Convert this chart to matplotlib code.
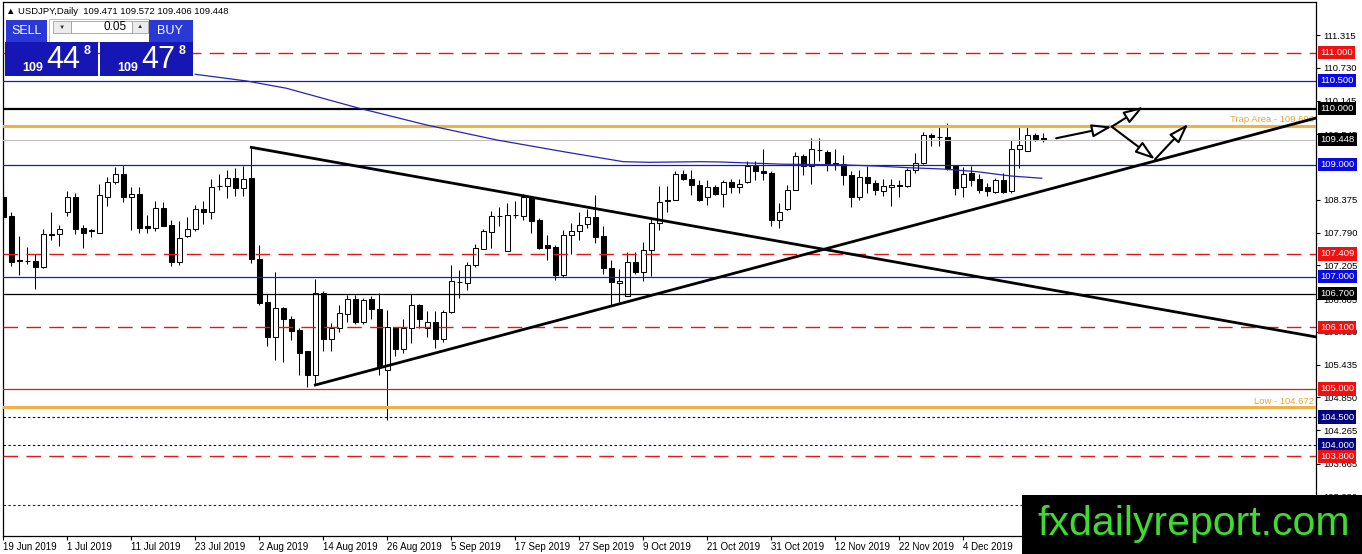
import matplotlib
matplotlib.use("Agg")
import matplotlib.pyplot as plt
import matplotlib.transforms as mtransforms
from matplotlib.patches import Rectangle

plt.rcParams["font.family"] = ["Liberation Sans", "DejaVu Sans"]

W, H = 1362, 554

# 日线K线 (bar 0 = 19 Jun 2019)
opens = [108.43, 108.09, 107.28, 107.29, 107.28, 107.17, 107.75, 107.76, 108.16, 108.42,
         107.87, 107.82, 107.79, 108.43, 108.69, 108.83, 108.43, 108.48, 107.91, 107.88,
         108.22, 107.93, 107.27, 107.73, 107.85, 108.21, 108.15, 108.62, 108.63, 108.76,
         108.58, 108.76, 107.31, 106.55, 105.92, 106.44, 106.24, 106.05, 105.67, 105.25,
         106.72, 105.89, 106.08, 106.34, 106.60, 106.20, 106.61, 106.42, 105.33, 106.10,
         105.71, 106.08, 106.49, 106.08, 106.20, 105.90, 106.37, 106.90, 106.89, 107.22,
         107.50, 107.80, 108.09, 107.46, 108.10, 108.09, 108.40, 108.02, 107.57, 107.54,
         107.03, 107.75, 107.82, 107.94, 108.07, 107.73, 107.15, 106.89, 106.65, 107.26,
         107.09, 107.48, 107.97, 108.36, 108.38, 108.84, 108.74, 108.64, 108.43, 108.61,
         108.47, 108.70, 108.60, 108.69, 108.98, 108.89, 108.86, 108.02, 108.21, 108.55,
         109.16, 108.98, 109.27, 109.22, 109.04, 109.01, 108.82, 108.42, 108.78, 108.67,
         108.54, 108.60, 108.63, 108.62, 108.91, 109.03, 109.53, 109.50, 109.50, 108.97,
         108.61, 108.85, 108.75, 108.61, 108.52, 108.72, 108.53, 109.29, 109.25, 109.53,
         109.471]
highs = [108.64, 108.15, 107.73, 107.53, 107.40, 107.86, 108.16, 107.93, 108.53, 108.49,
         107.93, 107.85, 108.65, 108.78, 108.96, 108.99, 108.60, 108.60, 108.10, 108.36,
         108.34, 108.02, 107.99, 108.06, 108.28, 108.35, 108.74, 108.84, 108.90, 108.94,
         108.98, 109.31, 107.57, 106.69, 107.08, 106.47, 106.30, 106.08, 105.68, 106.96,
         106.74, 106.18, 106.50, 106.68, 106.68, 106.62, 106.65, 106.72, 106.41, 106.11,
         106.24, 106.69, 106.52, 106.39, 106.39, 106.41, 107.22, 107.12, 107.27, 107.59,
         107.85, 108.18, 108.25, 108.31, 108.36, 108.48, 108.43, 108.05, 107.75, 107.57,
         107.84, 107.96, 108.16, 108.21, 108.46, 107.90, 107.30, 107.14, 107.45, 107.45,
         107.63, 108.05, 108.62, 108.62, 108.88, 108.90, 108.90, 108.73, 108.73, 108.64,
         108.73, 108.74, 108.74, 109.06, 109.06, 109.28, 108.88, 108.31, 108.64, 109.23,
         109.19, 109.47, 109.47, 109.26, 109.29, 109.18, 108.88, 108.90, 108.97, 108.73,
         108.74, 108.74, 108.73, 108.94, 109.21, 109.59, 109.56, 109.71, 109.74, 108.98,
         108.96, 108.98, 108.84, 108.67, 108.76, 108.85, 109.44, 109.68, 109.68, 109.57,
         109.572]
lows = [107.90, 107.20, 107.03, 107.23, 106.78, 107.16, 107.65, 107.55, 108.09, 107.76,
        107.52, 107.71, 107.78, 108.27, 108.65, 108.34, 107.84, 107.79, 107.79, 107.81,
        107.91, 107.19, 107.21, 107.71, 107.81, 107.94, 108.03, 108.55, 108.41, 108.44,
        108.44, 107.25, 106.50, 105.77, 105.51, 105.49, 105.87, 105.25, 105.04, 105.07,
        105.68, 105.68, 106.01, 106.20, 106.16, 106.16, 106.24, 105.25, 104.45, 105.58,
        105.64, 105.82, 106.08, 105.92, 105.73, 105.83, 106.36, 106.62, 106.76, 107.18,
        107.50, 107.51, 107.90, 107.46, 108.05, 108.02, 107.78, 107.49, 107.30, 106.94,
        106.99, 107.40, 107.65, 107.87, 107.61, 107.06, 106.50, 106.56, 106.65, 107.06,
        106.92, 107.02, 107.84, 108.15, 108.37, 108.73, 108.46, 108.36, 108.28, 108.46,
        108.24, 108.49, 108.50, 108.68, 108.72, 108.72, 107.91, 107.88, 108.19, 108.55,
        108.81, 108.66, 109.06, 108.88, 108.91, 108.64, 108.24, 108.37, 108.50, 108.46,
        108.44, 108.27, 108.43, 108.61, 108.86, 109.01, 109.34, 109.34, 108.91, 108.46,
        108.42, 108.62, 108.49, 108.44, 108.49, 108.49, 108.49, 108.94, 109.25, 109.43,
        109.406]
closes = [108.07, 107.27, 107.30, 107.28, 107.17, 107.76, 107.76, 107.85, 108.42, 107.86,
          107.79, 107.83, 108.46, 108.70, 108.83, 108.43, 108.48, 107.88, 107.87, 108.22,
          107.91, 107.27, 107.69, 107.85, 108.21, 108.15, 108.61, 108.63, 108.76, 108.58,
          108.74, 107.31, 106.54, 105.92, 106.44, 106.24, 106.04, 105.65, 105.25, 106.72,
          105.89, 106.09, 106.35, 106.60, 106.20, 106.58, 106.42, 105.40, 106.10, 105.71,
          106.08, 106.49, 106.24, 106.20, 105.90, 106.37, 106.92, 106.90, 107.22, 107.51,
          107.82, 108.09, 108.09, 108.10, 108.11, 108.43, 108.00, 107.51, 107.52, 107.03,
          107.75, 107.82, 107.93, 108.06, 107.72, 107.15, 106.90, 106.93, 107.26, 107.09,
          107.48, 107.96, 108.34, 108.36, 108.84, 108.74, 108.64, 108.38, 108.61, 108.47,
          108.70, 108.61, 108.65, 108.97, 108.88, 108.85, 108.02, 108.15, 108.55, 109.16,
          108.98, 109.28, 109.26, 109.04, 109.01, 108.81, 108.42, 108.78, 108.67, 108.55,
          108.62, 108.64, 108.64, 108.91, 109.03, 109.53, 109.49, 109.50, 108.95, 108.59,
          108.84, 108.73, 108.55, 108.54, 108.73, 108.52, 109.29, 109.35, 109.53, 109.44,
          109.448]

# 均线 (读取的折点)
ma_bars = [24, 30.4, 35.4, 44.2, 52.9, 61.7, 70, 77.5, 80.8, 87.1, 89.6, 97.5, 104.6,
           109, 113.1, 117.3, 121.7, 125.9, 129.8]
ma_vals = [110.614, 110.495, 110.365, 110.019, 109.710, 109.442, 109.234, 109.055, 109.044,
           109.055, 109.050, 109.010, 109.000, 108.978, 108.948, 108.925, 108.877, 108.800,
           108.759]

# 水平价位线
level_prices = [111.000, 110.500, 110.000, 109.448, 109.000, 107.409, 107.000, 106.700,
                106.100, 105.000, 104.500, 104.000, 103.800, 102.930]
level_colors = ["#e01818", "#1a1ac8", "black", "#c0c0c0", "#1a1ab0", "#e01818", "#1a1ac8",
                "black", "#e01818", "#e01818", "#000080", "#000080", "#e01818", "#202040"]
level_styles = ["red_dash", "solid", "solid", "solid", "solid", "red_dash", "solid",
                "solid", "red_dash", "solid", "dot", "dot", "red_dash", "dot"]
level_widths = [1.0, 0.9, 1.6, 0.8, 0.9, 1.0, 0.9, 0.9, 1.0, 0.9, 0.8, 0.8, 1.0, 0.8]
label_boxes = ["#f01010", "#0a0ae6", "black", "black", "#0a0ae6", "#f01010", "#0a0ae6",
               "black", "#f01010", "#f01010", "#000080", "#000080", "#f01010", None]

trap_price = 109.696
low_price = 104.672

# 三角形趋势线
down_line = ([31, 164.1], [109.311, 105.928])
up_line = ([39, 164.1], [105.071, 109.835])

# 箭头 (起点, 终点)
arrows = [((131.6, 109.473), (138.55, 109.679)),
          ((138.55, 109.679), (142.5, 110.036)),
          ((138.55, 109.679), (143.96, 109.098)),
          ((143.96, 109.098), (148.1, 109.728))]

date_ticks = [0, 8, 16, 24, 32, 40, 48, 56, 64, 72, 80, 88, 96, 104, 112, 120]
date_labels = ["19 Jun 2019", "1 Jul 2019", "11 Jul 2019", "23 Jul 2019", "2 Aug 2019",
               "14 Aug 2019", "26 Aug 2019", "5 Sep 2019", "17 Sep 2019", "27 Sep 2019",
               "9 Oct 2019", "21 Oct 2019", "31 Oct 2019", "12 Nov 2019", "22 Nov 2019",
               "4 Dec 2019"]
# 108.960 被 109.000 标签完全遮住，不画
price_ticks = [111.315, 110.730, 110.145, 109.545, 108.375, 107.790, 107.205,
               106.605, 106.020, 105.435, 104.850, 104.265, 103.665, 103.080]

fig = plt.figure(figsize=(W / 100, H / 100), dpi=100)
ax = fig.add_axes([3 / W, (H - 536) / H, 1313 / W, 534 / H])
ax.set_xlim(-0.04, 164.08)
ax.set_ylim(102.377, 111.904)

# K线
n = len(opens)
xs = list(range(n))
ax.vlines(xs, lows, highs, color="black", lw=0.75, zorder=3)
bottoms = [min(o, c) for o, c in zip(opens, closes)]
heights = [max(abs(c - o), 0.004) for o, c in zip(opens, closes)]
faces = ["white" if c >= o else "black" for o, c in zip(opens, closes)]
ax.bar(xs, heights, bottom=bottoms, width=0.55, color=faces, edgecolor="black",
       linewidth=0.75, zorder=4)

# 水平线
dash_map = {"red_dash": (0, (10.5, 6)), "solid": "-", "dot": (0, (2.2, 2.2))}
for p, col, st, lw in zip(level_prices, level_colors, level_styles, level_widths):
    ax.axhline(p, color=col, ls=dash_map[st], lw=lw, zorder=5)
ax.axhline(trap_price, color="#eeb245", lw=2.2, zorder=5)
ax.axhline(low_price, color="#eeb245", lw=2.2, zorder=5)

ax.plot(ma_bars, ma_vals, color="#2424b4", lw=0.9, zorder=5)

ax.plot(*down_line, color="black", lw=2.0, zorder=6)
ax.plot(*up_line, color="black", lw=2.0, zorder=6)

for (x0, y0), (x1, y1) in arrows:
    ax.annotate("", xy=(x1, y1), xytext=(x0, y0), zorder=7,
                arrowprops=dict(arrowstyle="-|>,head_length=0.85,head_width=0.28",
                                fc="white", ec="black", lw=1.5, shrinkA=0, shrinkB=0,
                                mutation_scale=14))

blend = mtransforms.blended_transform_factory(ax.transAxes, ax.transData)
ax.text(0.9985, trap_price + 0.025, f"Trap Area - {trap_price:.3f}", transform=blend,
        ha="right", va="bottom", fontsize=6.8, color="#e8a838", zorder=5, clip_on=True)
ax.text(0.9985, low_price + 0.025, f"Low - {low_price:.3f}", transform=blend,
        ha="right", va="bottom", fontsize=6.8, color="#e8a838", zorder=5)

# 坐标轴
for s in ax.spines.values():
    s.set_color("black")
    s.set_linewidth(0.9)
ax.yaxis.tick_right()
ax.set_yticks(price_ticks)
ax.set_yticklabels([f"{v:.3f}" for v in price_ticks])
ax.tick_params(axis="y", direction="out", length=3, width=0.8, labelsize=6.8, pad=2)
ax.set_xticks(date_ticks)
ax.set_xticklabels(date_labels, ha="left")
ax.tick_params(axis="x", direction="out", length=3, width=0.8, labelsize=7, pad=1.5)

# 右侧价格标签
for p, bc in zip(level_prices, label_boxes):
    if bc is None:
        continue
    ax.text(1.0032, p, f"{p:.3f}", transform=blend, ha="left", va="center",
            fontsize=6.8, color="white", zorder=10, clip_on=False,
            bbox=dict(boxstyle="square,pad=0.22", fc=bc, ec="none"))


def px_rect(x0, y0, x1, y1, **kw):
    fig.add_artist(Rectangle((x0 / W, 1 - y1 / H), (x1 - x0) / W, (y1 - y0) / H,
                             transform=fig.transFigure, **kw))


def px_text(x, y, s, **kw):
    fig.text(x / W, 1 - y / H, s, **kw)


# 标题
px_text(6, 11.5, "\u25b2 USDJPY,Daily  109.471 109.572 109.406 109.448", fontsize=6.8,
        va="center", ha="left")

# 交易面板
px_rect(49, 19, 149, 42, fc="white", ec="#b0b0b0", lw=0.6)
px_rect(6, 20, 47, 42, fc="#2a38d6", ec="none")
px_rect(149, 20, 193, 42, fc="#2a38d6", ec="none")
px_rect(53, 21, 71, 33, fc="#ececec", ec="#a0a0a0", lw=0.6)
px_rect(71, 21, 132, 33, fc="white", ec="#a0a0a0", lw=0.6)
px_rect(132, 21, 148, 33, fc="#ececec", ec="#a0a0a0", lw=0.6)
px_rect(5, 42, 98, 76, fc="#1616b4", ec="none")
px_rect(100, 42, 193, 76, fc="#1616b4", ec="none")
px_text(26.5, 31, "SELL", fontsize=9, color="white", ha="center", va="center")
px_text(170, 31, "BUY", fontsize=9, color="white", ha="center", va="center")
px_text(62, 27, "\u25bc", fontsize=4.5, ha="center", va="center", color="#303030")
px_text(140, 27, "\u25b2", fontsize=4.5, ha="center", va="center", color="#303030")
px_text(127, 27.5, "0.05", fontsize=8.5, ha="right", va="center")
for bx, big in [(0, "44"), (95, "47")]:
    px_text(33 + bx, 68, "109", fontsize=9, fontweight="bold", color="white",
            ha="center", va="center")
    px_text(63 + bx, 60.5, big, fontsize=22, color="white", ha="center", va="center")
    px_text(87 + bx, 51.5, "8", fontsize=9, fontweight="bold", color="white",
            ha="center", va="center")

# 水印
px_rect(1022, 495, 1362, 554, fc="black", ec="none", zorder=20)
px_text(1194, 535, "fxdailyreport.com", fontsize=29.5, color="#3ddc2f", ha="center",
        va="baseline", zorder=21)

fig.savefig("out.png", dpi=100)
plt.close(fig)
